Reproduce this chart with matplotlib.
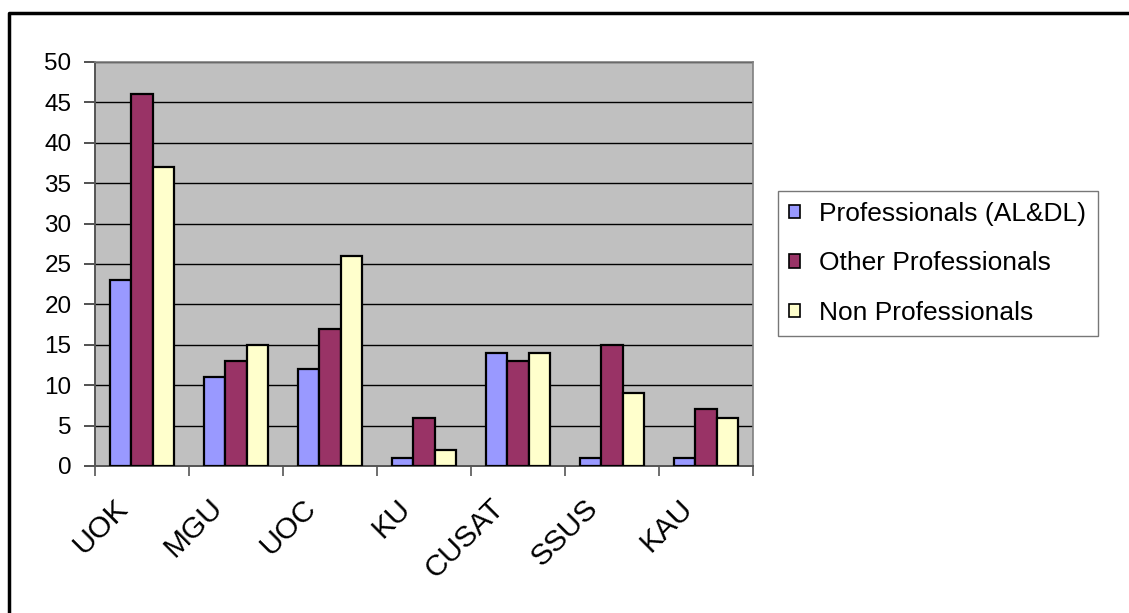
import matplotlib
matplotlib.use("Agg")
import matplotlib.pyplot as plt
from matplotlib.lines import Line2D
from matplotlib.transforms import ScaledTranslation
import numpy as np

plt.rcParams["font.family"] = ["Liberation Sans", "DejaVu Sans"]

universities = ["UOK", "MGU", "UOC", "KU", "CUSAT", "SSUS", "KAU"]
series_names = ["Professionals (AL&DL)", "Other Professionals", "Non Professionals"]
prof_aldl = [23, 11, 12, 1, 14, 1, 1]
other_prof = [46, 13, 17, 6, 13, 15, 7]
non_prof = [37, 15, 26, 2, 14, 9, 6]
y_ticks = list(range(0, 55, 5))

COLORS = ["#9999FF", "#993366", "#FFFFCC"]

W, H = 1129, 613
fig = plt.figure(figsize=(W / 100, H / 100), dpi=100)
ax = fig.add_axes([95 / W, 1 - 466 / H, (753 - 95) / W, (466 - 62) / H])
ax.set_facecolor("#C0C0C0")

x = np.arange(len(universities))
width = 0.228
for i, (vals, name) in enumerate(zip([prof_aldl, other_prof, non_prof], series_names)):
    ax.bar(x + (i - 1) * width, vals, width=width, color=COLORS[i],
           edgecolor="black", linewidth=1.6, label=name, zorder=3)

ax.set_xlim(-0.5, len(universities) - 0.5)
ax.set_ylim(0, 50)
ax.set_yticks(y_ticks)
ax.set_yticklabels([str(t) for t in y_ticks], fontsize=17.5)
ax.yaxis.grid(True, color="black", linewidth=1.0, zorder=1)
ax.set_axisbelow(True)

# category ticks on boundaries, labels at centers
ax.set_xticks(np.arange(len(universities) + 1) - 0.5)
ax.set_xticklabels([])
ax.set_xticks(x, minor=True)
ax.set_xticklabels(universities, minor=True, rotation=45, ha="right",
                   va="center", rotation_mode="anchor", fontsize=21.5)
ax.tick_params(axis="x", which="minor", length=0, pad=27)
ax.tick_params(axis="x", which="major", length=7, width=1.2, color="#555555", direction="out")
ax.tick_params(axis="y", length=8, width=1.2, color="#333333", pad=9)
shift = ScaledTranslation(-18 / 100, 0, fig.dpi_scale_trans)
for lbl in ax.get_xticklabels(minor=True):
    lbl.set_transform(lbl.get_transform() + shift)

for side in ["left", "bottom"]:
    ax.spines[side].set_color("#555555")
    ax.spines[side].set_linewidth(1.4)
for side in ["right", "top"]:
    ax.spines[side].set_color("#808080")
    ax.spines[side].set_linewidth(1.2)

leg = fig.legend(loc="upper left", bbox_to_anchor=(778 / W, 1 - 191 / H),
                 fontsize=19, frameon=True, fancybox=False, handlelength=0.4,
                 handleheight=0.4, handletextpad=0.75, labelspacing=0.96,
                 borderpad=0.42, borderaxespad=0)
leg.get_frame().set_edgecolor("#555555")
leg.get_frame().set_linewidth(1.0)
for h in leg.legend_handles:
    h.set_linewidth(1.2)

# outer chart border (partially visible)
fig.add_artist(Line2D([9 / W, 9 / W, 1.0], [0.0, 1 - 13 / H, 1 - 13 / H],
                      color="black", linewidth=2.5, transform=fig.transFigure))

fig.savefig("out.png", dpi=100)
print("Saved: out.png")
